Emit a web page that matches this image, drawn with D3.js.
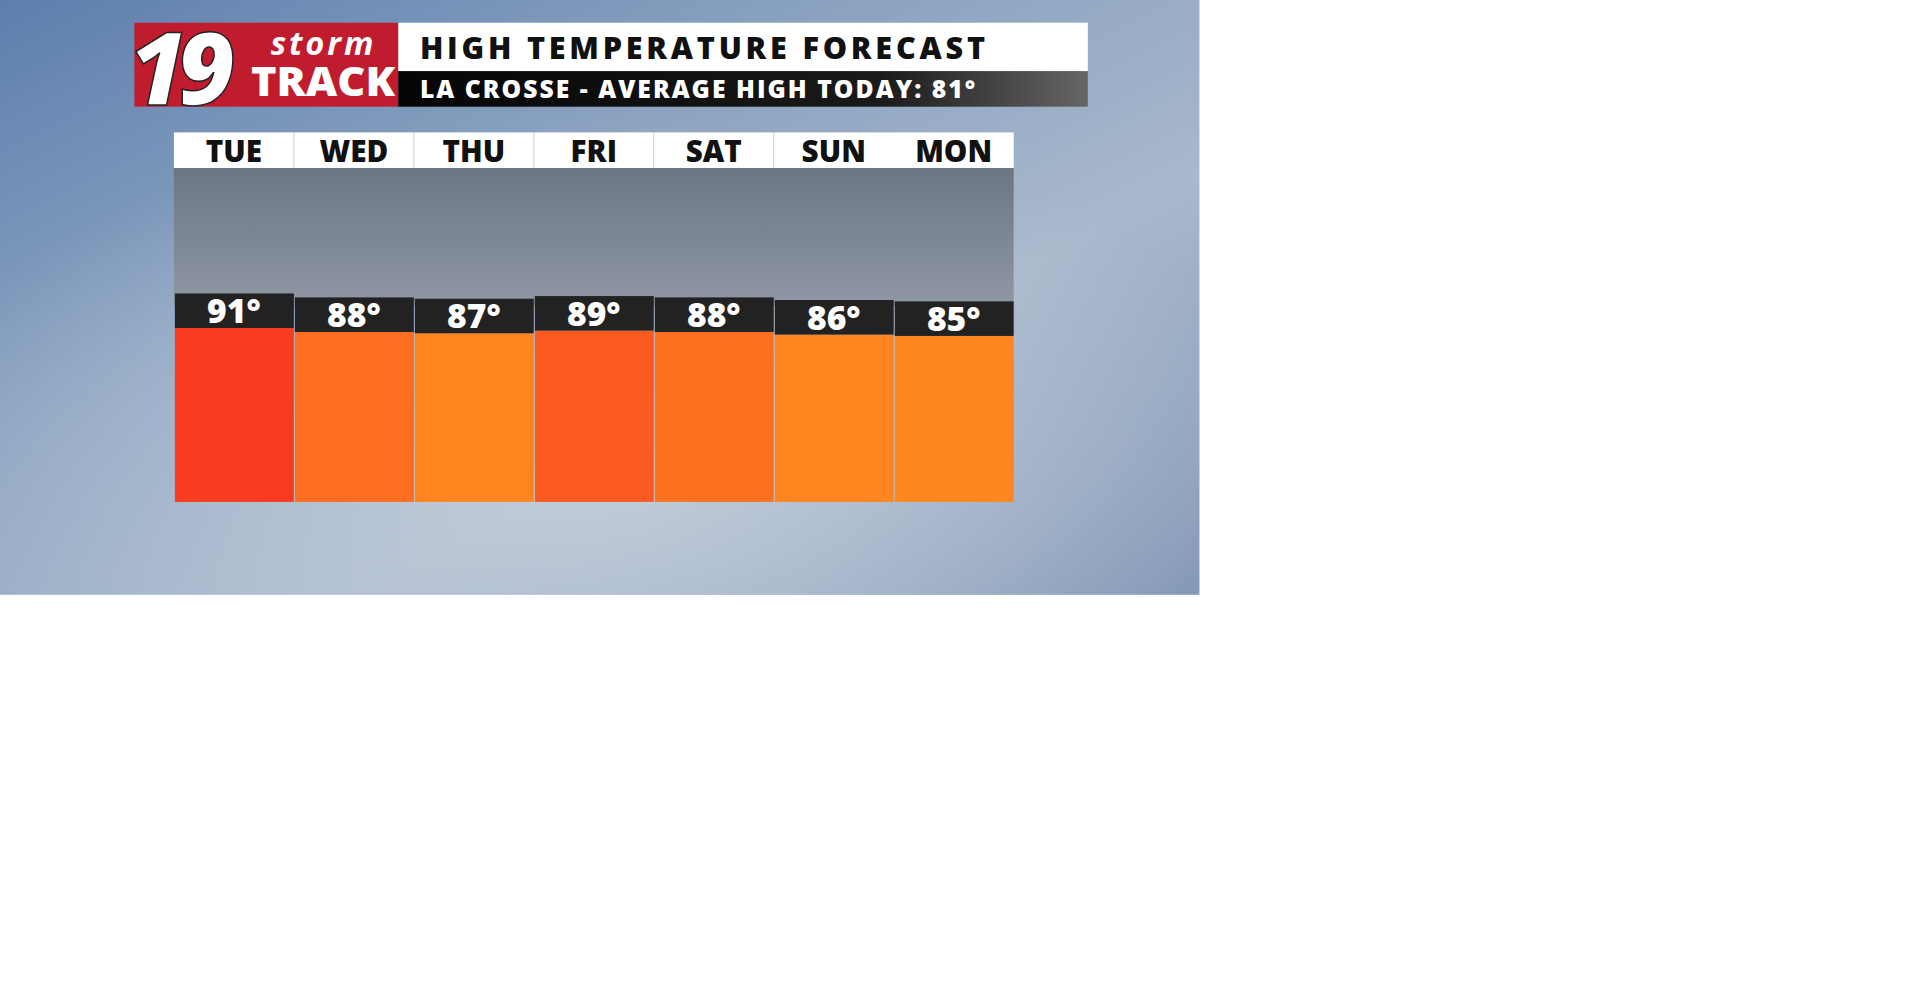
<!DOCTYPE html>
<html><head><meta charset="utf-8">
<script src="https://cdn.jsdelivr.net/npm/d3@7/dist/d3.min.js"></script>
<style>html,body{margin:0;padding:0;background:#fff;overflow:hidden}</style>
</head><body>
<svg id="c" width="1920" height="1008"></svg>
<script>
const days = ["TUE","WED","THU","FRI","SAT","SUN","MON"];
const highs = [91,88,87,89,88,86,85];
const barColors = ["#f83c1f","#fd6e20","#fe8420","#fc5a20","#fd7020","#fe8520","#fe8620"];
const title = "HIGH TEMPERATURE FORECAST";
const subtitle = "LA CROSSE - AVERAGE HIGH TODAY: 81°";

const root = d3.select("#c");
const svg = root.append("g").attr("transform","scale(0.988)");
const W = 1214, H = 602;
const defs = root.append("defs");
const bg = defs.append("linearGradient").attr("id","bg").attr("x1",0).attr("y1",0).attr("x2",1).attr("y2",1);
bg.append("stop").attr("offset",0).attr("stop-color","#5d7fae");
bg.append("stop").attr("offset",0.35).attr("stop-color","#8aa2c0");
bg.append("stop").attr("offset",0.65).attr("stop-color","#a9b8cc");
bg.append("stop").attr("offset",1).attr("stop-color","#7d93b3");
svg.append("rect").attr("width",W).attr("height",H).attr("fill","url(#bg)");
const rg = defs.append("radialGradient").attr("id","glow").attr("cx",0.5).attr("cy",0.8).attr("r",0.6);
rg.append("stop").attr("offset",0).attr("stop-color","#c8d2de").attr("stop-opacity",0.8);
rg.append("stop").attr("offset",1).attr("stop-color","#c8d2de").attr("stop-opacity",0);
svg.append("rect").attr("width",W).attr("height",H).attr("fill","url(#glow)");

const x = d3.scaleBand().domain(days).range([176,1026]).padding(0);
const y = d3.scaleLinear().domain([-67,91]).range([508,297]);

const pg = defs.append("linearGradient").attr("id","panel").attr("x1",0).attr("y1",0).attr("x2",0).attr("y2",1);
pg.append("stop").attr("offset",0).attr("stop-color","#6c7683");
pg.append("stop").attr("offset",1).attr("stop-color","#8f98a4");
svg.append("rect").attr("x",176).attr("y",170).attr("width",850).attr("height",140).attr("fill","url(#panel)");

svg.append("rect").attr("x",176).attr("y",134).attr("width",850).attr("height",36).attr("fill","#fff");
svg.selectAll(".sep").data(days.slice(1,6)).enter().append("line")
  .attr("x1",d=>x(d)).attr("x2",d=>x(d)).attr("y1",134).attr("y2",170).attr("stroke","#ccc");
svg.selectAll(".day").data(days).enter().append("text")
  .attr("x",d=>x(d)+x.bandwidth()/2).attr("y",164).attr("text-anchor","middle")
  .attr("font-family","Open Sans").attr("font-weight",800).attr("font-size",30).attr("fill","#111").text(d=>d);

const g = svg.selectAll(".bar").data(days.map((d,i)=>({d,v:highs[i],c:barColors[i]}))).enter().append("g");
g.append("rect").attr("x",d=>x(d.d)+1).attr("width",x.bandwidth()-1)
  .attr("y",d=>y(d.v)+35).attr("height",d=>508-y(d.v)-35).attr("fill",d=>d.c);
g.append("rect").attr("x",d=>x(d.d)+1).attr("width",x.bandwidth()-1)
  .attr("y",d=>y(d.v)).attr("height",35).attr("fill","#222");
g.append("text").attr("x",d=>x(d.d)+x.bandwidth()/2).attr("y",d=>y(d.v)+30).attr("text-anchor","middle")
  .attr("font-family","Open Sans").attr("font-weight",800).attr("font-size",34).attr("fill","#fff").text(d=>d.v+"°");

svg.append("rect").attr("x",403).attr("y",23).attr("width",698).attr("height",49).attr("fill","#fff");
const sg = defs.append("linearGradient").attr("id","sub").attr("x1",0).attr("x2",1);
sg.append("stop").attr("offset",0).attr("stop-color","#050505");
sg.append("stop").attr("offset",0.7).attr("stop-color","#1a1a1a");
sg.append("stop").attr("offset",1).attr("stop-color","#666");
svg.append("rect").attr("x",403).attr("y",72).attr("width",698).attr("height",36).attr("fill","url(#sub)");
svg.append("text").attr("x",425).attr("y",60).attr("font-family","Open Sans").attr("font-weight",800)
  .attr("font-size",31).attr("fill","#111").attr("textLength",572).text(title);
svg.append("text").attr("x",425).attr("y",99).attr("font-family","Open Sans").attr("font-weight",800)
  .attr("font-size",25).attr("fill","#fff").attr("textLength",562).text(subtitle);

svg.append("rect").attr("x",136).attr("y",23).attr("width",267).attr("height",85).attr("fill","#c01c2e");
svg.append("text").attr("x",130).attr("y",106).attr("font-family","Open Sans").attr("font-weight",800).attr("font-style","italic")
  .attr("font-size",102).attr("fill","#fff").attr("stroke","#222").attr("stroke-width",1.5).attr("letter-spacing",-10).text("19");
svg.append("text").attr("x",274).attr("y",56).attr("font-family","Open Sans").attr("font-weight",700).attr("font-style","italic")
  .attr("font-size",33).attr("fill","#fff").attr("textLength",104).text("storm");
svg.append("text").attr("x",254).attr("y",97).attr("font-family","Open Sans").attr("font-weight",800)
  .attr("font-size",42).attr("fill","#fff").attr("textLength",146).attr("lengthAdjust","spacingAndGlyphs").text("TRACK");
</script>
</body></html>
